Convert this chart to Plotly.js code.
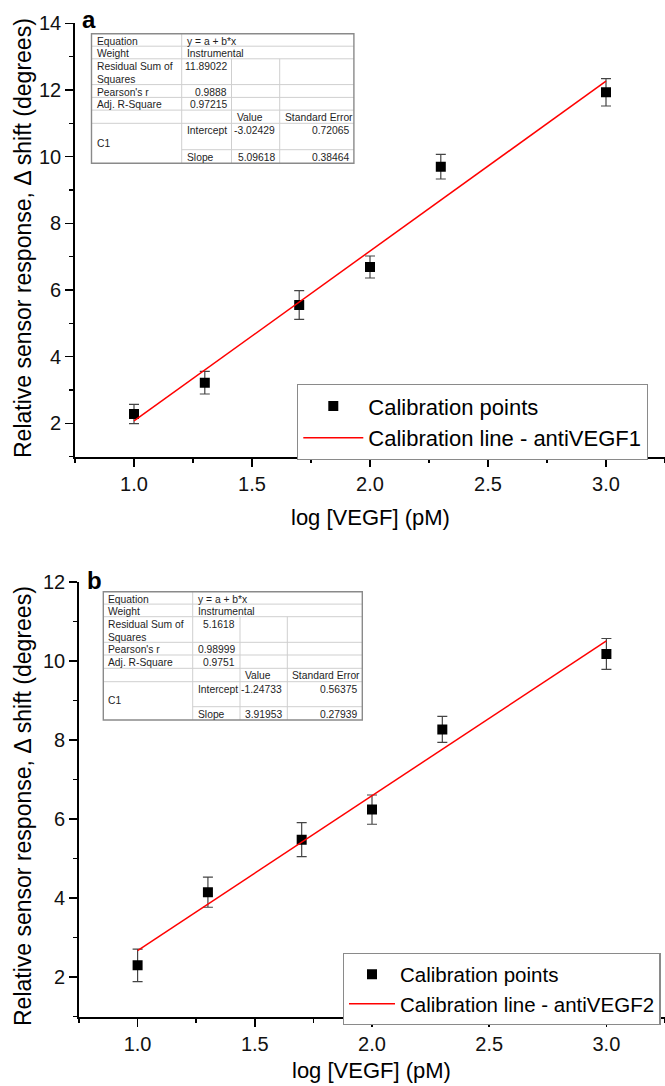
<!DOCTYPE html>
<html>
<head>
<meta charset="utf-8">
<script src="https://cdn.plot.ly/plotly-3.0.1.min.js"></script>
<style>html,body{margin:0;padding:0;background:#fff;}#chart{width:665px;height:1086px;}</style>
</head>
<body>
<div id="chart"></div>
<script>
// ---------------- DATA ----------------
const logVEGF = [1.0, 1.3, 1.7, 2.0, 2.3, 3.0];

// Panel a (antiVEGF1)
const responseA = [2.28, 3.22, 5.55, 6.69, 9.70, 11.93];
const errorA    = [0.29, 0.34, 0.43, 0.33, 0.37, 0.41];
// Panel b (antiVEGF2)
const responseB = [2.30, 4.15, 5.48, 6.24, 8.27, 10.18];
const errorB    = [0.41, 0.38, 0.43, 0.37, 0.33, 0.39];

const lineX = [1.0, 3.0];

// Fit tables (text)
const tableLabels = ["Equation", "Weight", "Residual Sum of<br>Squares", "Pearson's r", "Adj. R-Square"];
const tableHeader = ["Value", "Standard Error"];
const paramNames  = ["Intercept", "Slope"];
const groupName   = "C1";

const fitInfoA   = ["y = a + b*x", "Instrumental", "11.89022", "0.9888", "0.97215"];
const interceptA = [-3.02429, 0.72065];
const slopeA     = [5.09618, 0.38464];

const fitInfoB   = ["y = a + b*x", "Instrumental", "5.1618", "0.98999", "0.9751"];
const interceptB = [-1.24733, 0.56375];
const slopeB     = [3.91953, 0.27939];

const legendNames = ["Calibration points", "Calibration line - antiVEGF1", "Calibration line - antiVEGF2"];
const panelLabels = ["a", "b"];
const xTitle = "log [VEGF] (pM)";
const yTitle = "Relative sensor response, \u0394 shift (degrees)";

// ---------------- LAYOUT HELPERS ----------------
const W = 665, H = 1086;
const FONT = "Arial, 'Liberation Sans', sans-serif";
const px = x => x / W;
const py = y => 1 - y / H;

const shapes = [];
const annotations = [];

function cellText(text, x, y, xanchor, yanchor) {
  annotations.push({
    text: text, xref: "paper", yref: "paper", x: px(x), y: py(y),
    xanchor: xanchor, yanchor: yanchor, showarrow: false, align: "left",
    font: {family: FONT, size: 10.3, color: "#1e1e1e"}
  });
}
function hline(x0, x1, y, color, w) {
  shapes.push({type: "line", xref: "paper", yref: "paper", x0: px(x0), x1: px(x1), y0: py(y), y1: py(y),
    line: {color: color, width: w}, layer: "above"});
}
function vline(x, y0, y1, color, w) {
  shapes.push({type: "line", xref: "paper", yref: "paper", x0: px(x), x1: px(x), y0: py(y0), y1: py(y1),
    line: {color: color, width: w}, layer: "above"});
}

function drawTable(g, info, icpt, slp) {
  const cx = [g.x];
  g.colW.forEach(w => cx.push(cx[cx.length - 1] + w));
  const ry = [g.y];
  g.rowH.forEach(h => ry.push(ry[ry.length - 1] + h));
  const R = cx[4], B = ry[8];
  shapes.push({type: "rect", xref: "paper", yref: "paper", x0: px(cx[0]), x1: px(R), y0: py(B), y1: py(ry[0]),
    fillcolor: "#ffffff", line: {width: 0}, layer: "above"});
  const gc = "#cfcfcf";
  for (let i = 1; i < 8; i++) {
    if (i === 7) hline(cx[1], R, ry[i], gc, 1);
    else hline(cx[0], R, ry[i], gc, 1);
  }
  vline(cx[1], ry[0], B, gc, 1);
  vline(cx[2], ry[2], B, gc, 1);
  vline(cx[3], ry[2], B, gc, 1);
  shapes.push({type: "rect", xref: "paper", yref: "paper", x0: px(cx[0]), x1: px(R), y0: py(B), y1: py(ry[0]),
    line: {color: "#8a8a8a", width: 1.4}, layer: "above"});
  const pad = 3, top = 0;
  for (let i = 0; i < 5; i++) cellText(tableLabels[i], cx[0] + pad, ry[i] + top, "left", "top");
  cellText(info[0], cx[1] + pad, ry[0] + top, "left", "top");
  cellText(info[1], cx[1] + pad, ry[1] + top, "left", "top");
  for (let i = 2; i < 5; i++) cellText(info[i], cx[2] - pad, ry[i] + top, "right", "top");
  cellText(tableHeader[0], cx[2] + pad, ry[5] + top, "left", "top");
  cellText(tableHeader[1], cx[3] + pad, ry[5] + top, "left", "top");
  cellText(groupName, cx[0] + pad, (ry[6] + ry[8]) / 2, "left", "middle");
  cellText(paramNames[0], cx[1] + pad, ry[6] + top, "left", "top");
  cellText(paramNames[1], cx[1] + pad, ry[7] + top, "left", "top");
  cellText(String(icpt[0]), cx[3] - pad, ry[6] + top, "right", "top");
  cellText(String(icpt[1]), R - pad, ry[6] + top, "right", "top");
  cellText(String(slp[0]), cx[3] - pad, ry[7] + top, "right", "top");
  cellText(String(slp[1]), R - pad, ry[7] + top, "right", "top");
}

drawTable({x: 91.5, y: 33.7, colW: [90.2, 49.8, 48.2, 74.2], rowH: [12.5, 12.6, 25.8, 12.8, 12.7, 13.2, 26.4, 13.6]},
  fitInfoA, interceptA, slopeA);
drawTable({x: 103.3, y: 591.7, colW: [89.4, 47.3, 47.3, 75.0], rowH: [12.4, 12.6, 25.6, 12.7, 13.3, 13.4, 25.0, 13.3]},
  fitInfoB, interceptB, slopeB);

// panel letters
annotations.push({text: "<b>" + panelLabels[0] + "</b>", xref: "paper", yref: "paper", x: px(80), y: py(19),
  xanchor: "left", yanchor: "middle", showarrow: false, font: {family: FONT, size: 24, color: "#000"}});
annotations.push({text: "<b>" + panelLabels[1] + "</b>", xref: "paper", yref: "paper", x: px(85), y: py(580),
  xanchor: "left", yanchor: "middle", showarrow: false, font: {family: FONT, size: 24, color: "#000"}});

// axis titles
[[238, 517, 370], [806, 1070, 372]].forEach(([yc, xy, xc]) => {
  annotations.push({text: yTitle, xref: "paper", yref: "paper", x: px(23), y: py(yc), textangle: -90,
    xanchor: "center", yanchor: "middle", showarrow: false, font: {family: FONT, size: 23, color: "#000"}});
  annotations.push({text: xTitle, xref: "paper", yref: "paper", x: px(xc), y: py(xy),
    xanchor: "center", yanchor: "middle", showarrow: false, font: {family: FONT, size: 22, color: "#000"}});
});

// ---------------- TRACES ----------------
const fitY = (a, b) => lineX.map(x => a + b * x);

const traces = [
  {x: logVEGF, y: responseA, type: "scatter", mode: "markers", name: legendNames[0], legend: "legend",
   xaxis: "x", yaxis: "y",
   marker: {symbol: "square", size: 10, color: "#000"},
   error_y: {type: "data", array: errorA, visible: true, color: "#444", thickness: 1.2, width: 5}},
  {x: lineX, y: fitY(interceptA[0], slopeA[0]), type: "scatter", mode: "lines", name: legendNames[1],
   legend: "legend", xaxis: "x", yaxis: "y", line: {color: "#ff0000", width: 1.5}},
  {x: logVEGF, y: responseB, type: "scatter", mode: "markers", name: legendNames[0], legend: "legend2",
   xaxis: "x2", yaxis: "y2",
   marker: {symbol: "square", size: 10, color: "#000"},
   error_y: {type: "data", array: errorB, visible: true, color: "#444", thickness: 1.2, width: 5}},
  {x: lineX, y: fitY(interceptB[0], slopeB[0]), type: "scatter", mode: "lines", name: legendNames[2],
   legend: "legend2", xaxis: "x2", yaxis: "y2", line: {color: "#ff0000", width: 1.5}}
];

// ---------------- AXES ----------------
function xAx(domain, anchor) {
  return {domain: domain, anchor: anchor, range: [0.75, 3.25], tick0: 1, dtick: 0.5, tickformat: ".1f",
    showgrid: false, zeroline: false, showline: true, linecolor: "#000", linewidth: 1.8,
    ticks: "outside", ticklen: 8, tickwidth: 1.5, tickcolor: "#000",
    minor: {dtick: 0.25, ticks: "outside", ticklen: 4, tickwidth: 1.5, tickcolor: "#000"},
    tickfont: {family: FONT, size: 20, color: "#111"}, fixedrange: true, automargin: false};
}
function yAx(domain, anchor, range) {
  return {domain: domain, anchor: anchor, range: range, tick0: 0, dtick: 2,
    showgrid: false, zeroline: false, showline: true, linecolor: "#000", linewidth: 1.8,
    ticks: "outside", ticklen: 8, tickwidth: 1.5, tickcolor: "#000",
    minor: {dtick: 1, ticks: "outside", ticklen: 4, tickwidth: 1.5, tickcolor: "#000"},
    tickfont: {family: FONT, size: 20, color: "#111"}, fixedrange: true, automargin: false};
}

const layout = {
  width: W, height: H,
  margin: {l: 0, r: 0, t: 0, b: 0, pad: 0},
  paper_bgcolor: "#fff", plot_bgcolor: "#fff",
  font: {family: FONT, color: "#000"},
  xaxis: xAx([75 / W, 1], "y"),
  yaxis: yAx([py(456.7), py(23.3)], "x", [1, 14]),
  xaxis2: xAx([79 / W, 1], "y2"),
  yaxis2: yAx([py(1016.7), py(582)], "x2", [1, 12]),
  showlegend: true,
  legend: {x: px(297), y: py(384), xanchor: "left", yanchor: "top", bgcolor: "#fff",
    bordercolor: "#8a8a8a", borderwidth: 1.3, itemwidth: 60, font: {family: FONT, size: 22, color: "#000"}},
  legend2: {x: px(342.7), y: py(953), xanchor: "left", yanchor: "top", bgcolor: "#fff",
    bordercolor: "#8a8a8a", borderwidth: 1.3, itemwidth: 46, font: {family: FONT, size: 20.5, color: "#000"}},
  shapes: shapes,
  annotations: annotations
};

Plotly.newPlot("chart", traces, layout, {displayModeBar: false, staticPlot: true});
</script>
</body>
</html>
